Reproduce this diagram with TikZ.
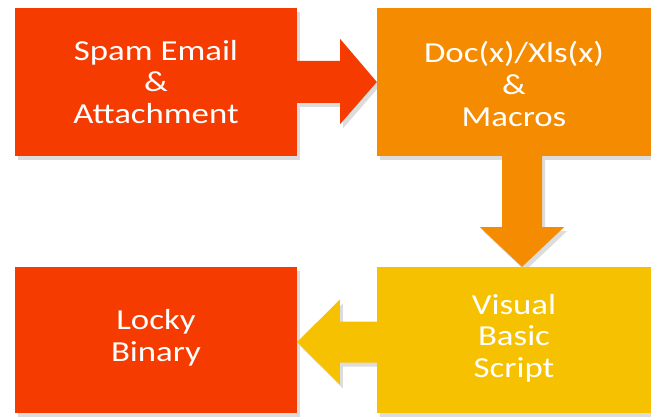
\documentclass[tikz,border=0pt]{standalone}
\usepackage{fontspec}
\newfontfamily\boxfont[FakeStretch=1.2]{Carlito}
\usetikzlibrary{calc}
\definecolor{cred}{HTML}{F53B00}
\definecolor{corange}{HTML}{F58B00}
\definecolor{cyellow}{HTML}{F5C100}
\definecolor{cshadow}{HTML}{DCDCDC}
\begin{document}
\begin{tikzpicture}[x=1pt,y=-1pt,
  blk/.style={minimum width=282pt,minimum height=148pt,inner sep=0pt,
    text=white,align=center,font=\boxfont\fontsize{29}{31.7}\selectfont},
  lbl/.style={blk,minimum width=0pt,minimum height=0pt},
]
\useasboundingbox[fill=white] (0,0) rectangle (651,417);
% nodes (placed, drawn later on top of shadows)
\path node[blk,minimum width=282pt,minimum height=148pt] (a) at (156,82) {};
\path node[blk,minimum width=274pt,minimum height=148pt] (b) at (514,82) {};
\path node[blk,minimum width=282pt,minimum height=146pt] (c) at (156,340) {};
\path node[blk,minimum width=274pt,minimum height=146pt] (d) at (514,340) {};
% arrow coordinates
\coordinate (a1) at ($(a.east)+(0,0)$);
\coordinate (a2) at ($(b.west)+(0,0)$);
\coordinate (b1) at ($(b.south)+(8,0)$);
\coordinate (b2) at ($(d.north)+(8,0)$);
\coordinate (c1) at ($(d.west)+(0,2)$);
\coordinate (c2) at ($(c.east)+(0,2)$);
\def\arrA{(a1)++(0,-21) -- ++(43,0) -- ++(0,-22) -- (a2) -- ($(a1)+(43,42)$) -- ++(0,-21) -- ($(a1)+(0,21)$) -- cycle}
\def\arrB{($(b1)+(-20,0)$) -- ++(0,71) -- ++(-22,0) -- (b2) -- ($(b1)+(42,71)$) -- ++(-22,0) -- ($(b1)+(20,0)$) -- cycle}
\def\arrC{($(c1)+(0,-20.5)$) -- ++(-37,0) -- ++(0,-22) -- (c2) -- ($(c1)+(-37,42.5)$) -- ++(0,-22) -- ($(c1)+(0,20.5)$) -- cycle}
% shadows
\begin{scope}[transform canvas={shift={(3pt,-4pt)}}]
  \fill[cshadow] (a.north west) rectangle (a.south east);
  \fill[cshadow] (b.north west) rectangle (b.south east);
  \fill[cshadow] (c.north west) rectangle (c.south east);
  \fill[cshadow] (d.north west) rectangle (d.south east);
  \fill[cshadow] \arrA;
  \fill[cshadow] \arrB;
  \fill[cshadow] \arrC;
\end{scope}
% arrows
\fill[cred] \arrA;
\fill[corange] \arrB;
\fill[cyellow] \arrC;
% boxes
\fill[cred] (a.north west) rectangle (a.south east);
\fill[corange] (b.north west) rectangle (b.south east);
\fill[cred] (c.north west) rectangle (c.south east);
\fill[cyellow] (d.north west) rectangle (d.south east);
% texts
\node[lbl] (ta) at (a.center) {Spam Email\\\&\\Attachment};
\node[lbl] (tb) at ($(b.center)+(0,2)$) {Doc(x)/Xls(x)\\\&\\Macros};
\node[lbl] (tc) at ($(c.center)+(0,-2)$) {Locky\\Binary};
\node[lbl] (td) at ($(d.center)+(0,-2)$) {Visual\\Basic\\Script};
\end{tikzpicture}
\end{document}
